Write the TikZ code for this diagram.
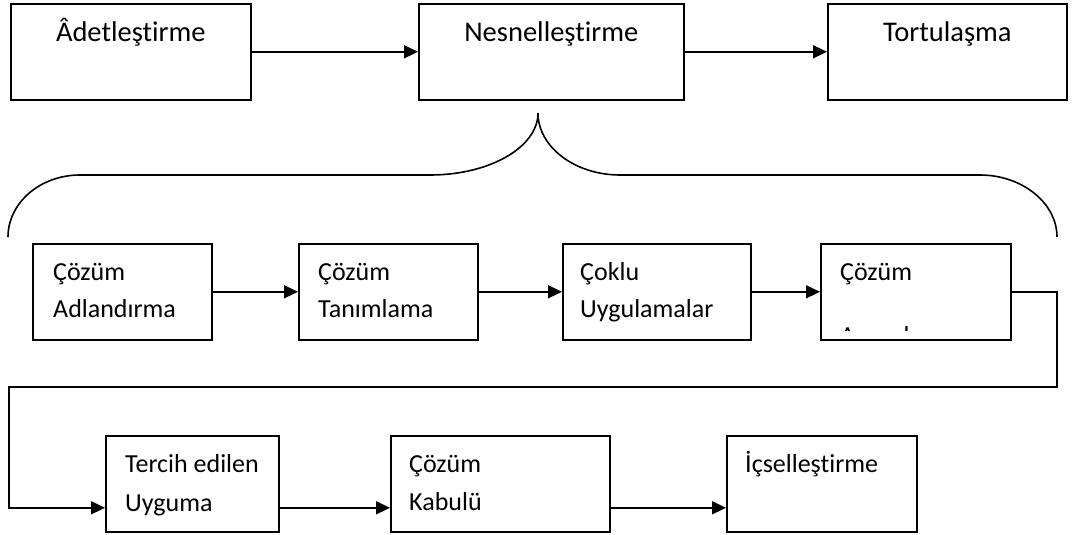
\documentclass[tikz,border=0pt]{standalone}
\usepackage{fontspec}
\setmainfont{Carlito}[RawFeature={-liga;-clig;-calt;-dlig}]
\usetikzlibrary{arrows.meta,calc}
% keeps "t" and "i" as separate glyphs
\newcommand{\tinolig}{t\kern0pt i}
\begin{document}
\begin{tikzpicture}[x=1pt,y=-1pt,
  box/.style={draw,line width=1.6pt,rectangle,inner sep=0pt,anchor=north west,minimum height=96pt},
  line/.style={line width=1.6pt},
  arr/.style={line width=1.6pt,-{Triangle[length=14pt,width=13pt]}},
  toptxt/.style={font=\fontsize{28.5}{34}\selectfont,anchor=base,inner sep=0pt},
  txt/.style={font=\fontsize{26}{31}\selectfont,anchor=base west,inner sep=0pt}]
\useasboundingbox (0,0) rectangle (1073,535);

% top row
\node[box,minimum width=240pt] (adet) at (10,3) {};
\node[box,minimum width=265pt] (nesne) at (418,3) {};
\node[box,minimum width=239pt] (tort) at (827,3) {};
\node[toptxt] (tadet) at ($(adet.north)+(0,39)$) {Âdetleş\tinolig rme};
\node[toptxt] (tnesne) at ($(nesne.north)+(0,39)$) {Nesnelleş\tinolig rme};
\node[toptxt] (ttort) at ($(tort.north)+(0,39)$) {Tortulaşma};
\draw[arr] (adet.east) -- (nesne.west);
\draw[arr] (nesne.east) -- (tort.west);

% brace below the middle box
\draw[line] (8,237) .. controls (8,203) and (40,175) .. (80,175) -- (430,175)
  .. controls (490,175) and (538,147) .. (538,113);
\draw[line] (538,113) .. controls (538,147) and (575,175) .. (620,175) -- (980,175)
  .. controls (1022,175) and (1057,203) .. (1057,237);

% second row
\node[box,minimum width=179pt] (ad) at (32,243) {};
\node[box,minimum width=179pt] (tan) at (298,243) {};
\node[box,minimum width=188pt] (cok) at (562,243) {};
\node[box,minimum width=190pt] (ara) at (820,243) {};
\node[txt] (ad1) at ($(ad.north west)+(21,37)$) {Çözüm};
\node[txt] (ad2) at ($(ad.north west)+(21,74)$) {Adlandırma};
\node[txt] (tan1) at ($(tan.north west)+(20,37)$) {Çözüm};
\node[txt] (tan2) at ($(tan.north west)+(20,74)$) {Tanımlama};
\node[txt] (cok1) at ($(cok.north west)+(18,37)$) {Çoklu};
\node[txt] (cok2) at ($(cok.north west)+(18,74)$) {Uygulamalar};
\node[txt] (ara1) at ($(ara.north west)+(20,37)$) {Çözüm};
% second line of this box is cut off by the box's text area
\begin{scope}
  \clip ($(ara.north west)+(2,2)$) rectangle ($(ara.south east)+(-2,-10)$);
  \node[txt] (ara2) at ($(ara.north west)+(20,101)$) {Arayışları};
\end{scope}
\draw[arr] (ad.east) -- (tan.west);
\draw[arr] (tan.east) -- (cok.west);
\draw[arr] (cok.east) -- (ara.west);

% third row
\node[box,minimum width=173pt] (ter) at (105,435) {};
\node[box,minimum width=219pt] (kab) at (390,435) {};
\node[box,minimum width=190pt] (ics) at (726,435) {};
\node[txt] (ter1) at ($(ter.north west)+(20,37)$) {Tercih edilen};
\node[txt] (ter2) at ($(ter.north west)+(20,76)$) {Uyguma};
\node[txt] (kab1) at ($(kab.north west)+(19,37)$) {Çözüm};
\node[txt] (kab2) at ($(kab.north west)+(19,75)$) {Kabulü};
\node[txt] (ics1) at ($(ics.north west)+(19,37)$) {İçselleş\tinolig rme};

% return line from the second row to the third
\coordinate (rr) at (1057,387);
\coordinate (ll) at (9,387);
\coordinate (terin) at ($(ter.west)+(0,24)$);
\draw[arr] (ara.east) -| (rr) -- (ll) |- (terin);
\draw[arr] ($(ter.east)+(0,24)$) -- ($(kab.west)+(0,24)$);
\draw[arr] ($(kab.east)+(0,24)$) -- ($(ics.west)+(0,24)$);
\end{tikzpicture}
\end{document}
